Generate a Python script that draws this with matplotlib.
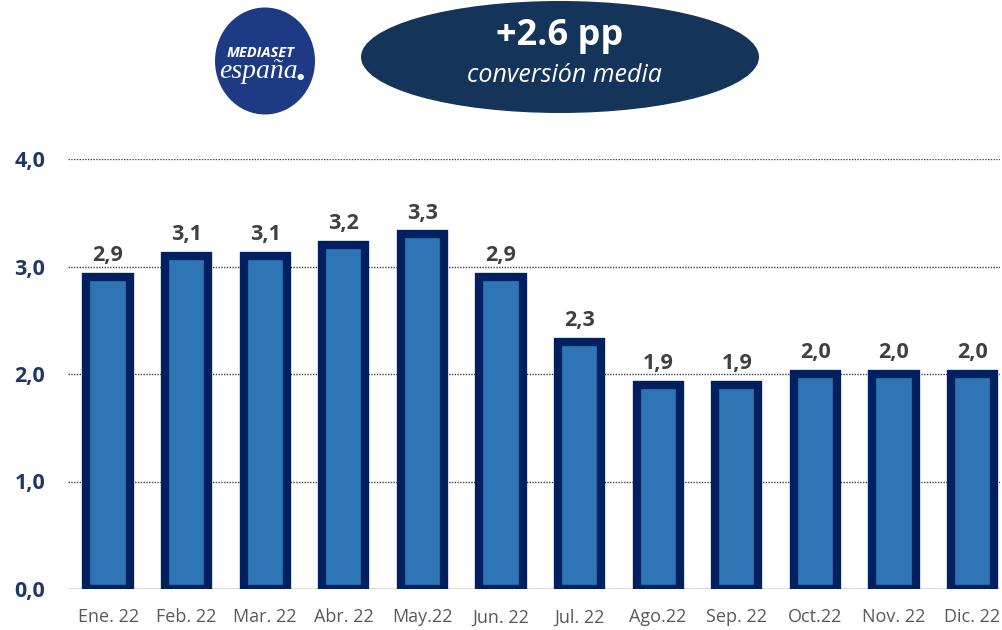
import matplotlib
matplotlib.use("Agg")
import matplotlib.pyplot as plt
from matplotlib.patches import Ellipse

# data
months = ["Ene. 22", "Feb. 22", "Mar. 22", "Abr. 22", "May.22", "Jun. 22",
          "Jul. 22", "Ago.22", "Sep. 22", "Oct.22", "Nov. 22", "Dic. 22"]
conversion = [2.9, 3.1, 3.1, 3.2, 3.3, 2.9, 2.3, 1.9, 1.9, 2.0, 2.0, 2.0]
y_ticks = [0.0, 1.0, 2.0, 3.0, 4.0]
headline = "+2.6 pp"
subline = "conversión media"

W, H = 1002, 630
fig = plt.figure(figsize=(W / 100, H / 100), dpi=100)
plt.rcParams['font.family'] = ['Open Sans', 'DejaVu Sans']

# axes placed in pixel terms
left, right, bottom, top = 68, 1000, 589, 159
ax = fig.add_axes([left / W, (H - bottom) / H, (right - left) / W, (bottom - top) / H])

x = list(range(len(months)))
ax.bar(x, conversion, width=0.55, color='#2E75B6', edgecolor='#002060',
       linewidth=6, zorder=3)

for xi, v in zip(x, conversion):
    ax.text(xi, v + 0.1, f"{v:.1f}".replace('.', ','), ha='center', va='bottom',
            fontsize=15.5, fontweight='bold', color='#404040')

ax.set_xlim(-0.51, 11.35)
ax.set_ylim(0, 4.0)
ax.set_yticks(y_ticks)
ax.set_yticklabels([f"{t:.1f}".replace('.', ',') for t in y_ticks],
                   fontsize=15.5, fontweight='bold', color='#1F3864')
ax.set_xticks(x)
ax.set_xticklabels(months, fontsize=13, color='#595959')
ax.tick_params(axis='both', length=0)
ax.tick_params(axis='y', pad=16.5)
ax.tick_params(axis='x', pad=14)

for t in y_ticks[1:]:
    ax.axhline(t, color='#404040', linestyle=(0, (1, 1)), linewidth=1.0, zorder=1)
ax.axhline(0, color='#D9D9D9', linewidth=2, zorder=2)

for s in ax.spines.values():
    s.set_visible(False)

# ellipse with summary
ell = Ellipse((560 / W, 1 - 57 / H), 398 / W, 112 / H, transform=fig.transFigure,
              facecolor='#14345A', edgecolor='none')
fig.add_artist(ell)
fig.text(560 / W, 1 - 36 / H, headline, ha='center', va='center', fontsize=26,
         fontweight='bold', color='white')
fig.text(564 / W, 1 - 76 / H, subline, ha='center', va='center', fontsize=18,
         style='italic', color='white')

# logo
logo = Ellipse((265 / W, 1 - 61 / H), 100 / W, 107 / H, transform=fig.transFigure,
               facecolor='#1F3A85', edgecolor='none')
fig.add_artist(logo)
fig.text(261 / W, 1 - 53 / H, "MEDIASET", ha='center', va='center', fontsize=10.5,
         fontweight='bold', style='italic', color='white')
fig.text(258 / W, 1 - 72 / H, "españa", ha='center', va='center', fontsize=20,
         family=['Liberation Serif'], style='italic', color='white')
fig.text(300 / W, 1 - 77 / H, "●", ha='center', va='center', fontsize=6,
         color='white', family=['DejaVu Sans'])

fig.savefig("out.png", dpi=100)
